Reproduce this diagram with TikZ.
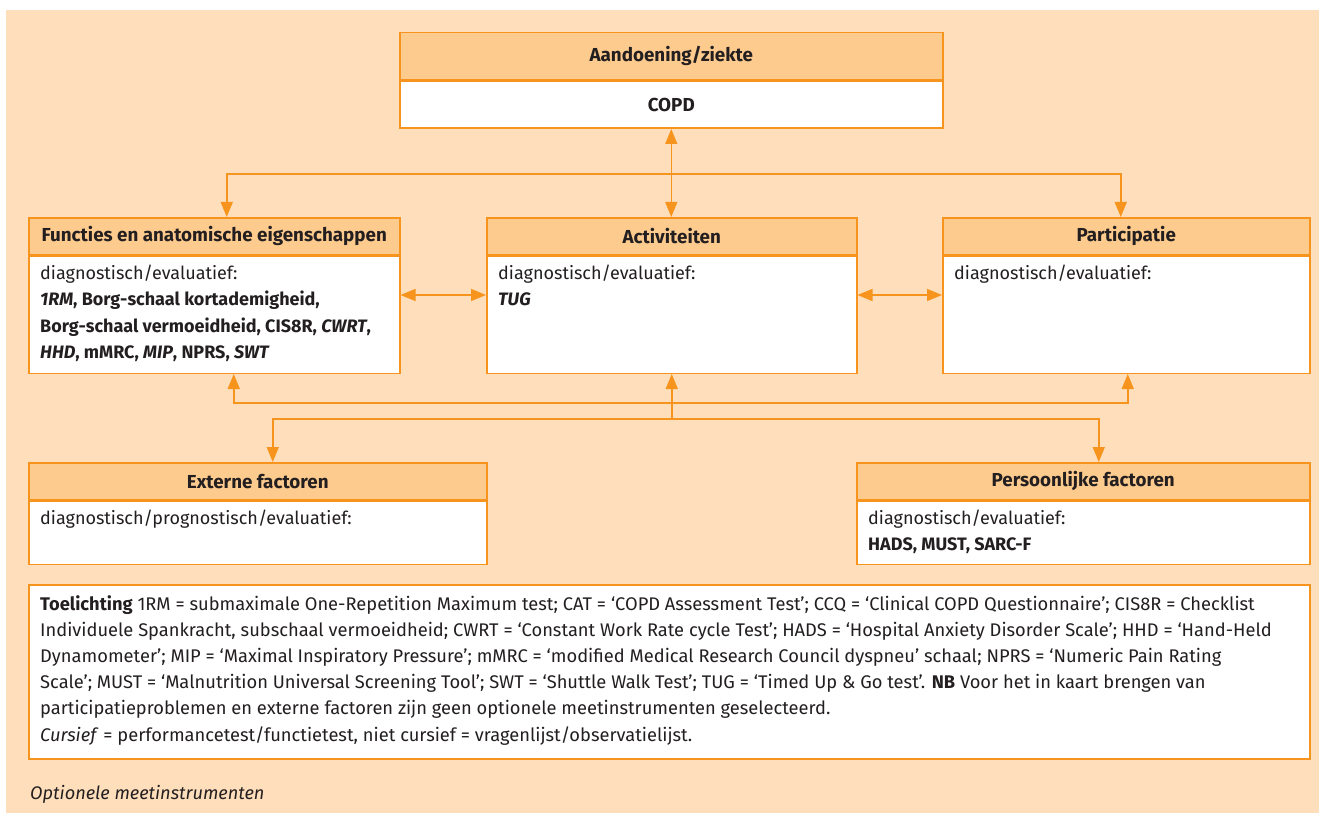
\documentclass[tikz,border=0pt]{standalone}
\usepackage{fontspec}
\setmainfont{Fira Sans}
\usetikzlibrary{arrows.meta,positioning,calc}

\definecolor{achtergrond}{RGB}{255,223,187}
\definecolor{kopkleur}{RGB}{254,203,142}
\definecolor{oranje}{RGB}{247,148,29}
\definecolor{inkt}{RGB}{35,31,32}

\tikzset{
  kop/.style={draw=oranje, fill=kopkleur, line width=1.5pt, anchor=north west, inner sep=0pt, text=inkt, font=\fontsize{18.8}{20}\selectfont\bfseries},
  vak/.style={draw=oranje, fill=white, line width=1.5pt, anchor=north west, inner sep=0pt, text=inkt},
  inhoud/.style={anchor=north west, inner sep=0pt, align=left, text=inkt, font=\fontsize{18}{26.5}\selectfont},
  pijl/.style={draw=oranje, line width=1.5pt, -{Triangle[length=15pt,width=12pt]}},
  dubbel/.style={pijl, {Triangle[length=15pt,width=12pt]}-{Triangle[length=15pt,width=12pt]}},
  lijn/.style={draw=oranje, line width=1.5pt}
}

\begin{document}
\begin{tikzpicture}[x=1pt,y=-1pt]
\useasboundingbox (0,0) rectangle (1319,813);
\fill[achtergrond] (6,10) rectangle (1319,813);

% aandoening
\node[kop, minimum width=543pt, minimum height=47pt] (ziekte) at (399,32) {Aandoening/ziekte};
\node[vak, minimum width=543pt, minimum height=47pt, font=\fontsize{18.8}{20}\selectfont\bfseries] (copd) at (ziekte.south west) {COPD};

% functies, activiteiten, participatie
\node[kop, minimum width=371pt, minimum height=37pt] (fun) at (28,217) {Functies en anatomische eigenschappen};
\node[vak, minimum width=371pt, minimum height=117pt] (funvak) at (fun.south west) {};
\node[inhoud] (funtekst) at ([shift={(12,9)}]funvak.north west) {diagnostisch/evaluatief:\\
  \textbf{\textit{1RM}, Borg-schaal kortademigheid,}\\
  \textbf{Borg-schaal vermoeidheid, CIS8R, \textit{CWRT},}\\
  \textbf{\textit{HHD}, mMRC, \textit{MIP}, NPRS, \textit{SWT}}};

\node[kop, minimum width=370pt, minimum height=37pt] (act) at (486,217) {Activiteiten};
\node[vak, minimum width=370pt, minimum height=117pt] (actvak) at (act.south west) {};
\node[inhoud] (acttekst) at ([shift={(12,9)}]actvak.north west) {diagnostisch/evaluatief:\\
  \textbf{\textit{TUG}}};

\node[kop, minimum width=367pt, minimum height=37pt] (par) at (942,217) {Participatie};
\node[vak, minimum width=367pt, minimum height=117pt] (parvak) at (par.south west) {};
\node[inhoud] (partekst) at ([shift={(12,9)}]parvak.north west) {diagnostisch/evaluatief:};

% externe en persoonlijke factoren
\node[kop, minimum width=458pt, minimum height=37pt] (ext) at (28,462) {Externe factoren};
\node[vak, minimum width=458pt, minimum height=63pt] (extvak) at (ext.south west) {};
\node[inhoud] (exttekst) at ([shift={(12,9)}]extvak.north west) {diagnostisch/prognostisch/evaluatief:};

\node[kop, minimum width=453pt, minimum height=37pt] (pers) at (856,462) {Persoonlijke factoren};
\node[vak, minimum width=453pt, minimum height=63pt] (persvak) at (pers.south west) {};
\node[inhoud] (perstekst) at ([shift={(12,9)}]persvak.north west) {diagnostisch/evaluatief:\\
  \textbf{HADS, MUST, SARC-F}};

% toelichting
\node[vak, minimum width=1281pt, minimum height=174pt] (uitleg) at (28,584) {};
\node[inhoud, font=\fontsize{18.3}{26.2}\selectfont] (uitlegtekst) at ([shift={(12,11)}]uitleg.north west) {\textbf{Toelichting} 1RM = submaximale One-Repetition Maximum test; CAT = ‘COPD Assessment Test’; CCQ = ‘Clinical COPD Questionnaire’; CIS8R = Checklist\\
  Individuele Spankracht, subschaal vermoeidheid; CWRT = ‘Constant Work Rate cycle Test’; HADS = ‘Hospital Anxiety Disorder Scale’; HHD = ‘Hand-Held\\
  Dynamometer’; MIP = ‘Maximal Inspiratory Pressure’; mMRC = ‘modified Medical Research Council dyspneu’ schaal; NPRS = ‘Numeric Pain Rating\\
  Scale’; MUST = ‘Malnutrition Universal Screening Tool’; SWT = ‘Shuttle Walk Test’; TUG = ‘Timed Up \& Go test’. \textbf{NB} Voor het in kaart brengen van\\
  participatieproblemen en externe factoren zijn geen optionele meetinstrumenten geselecteerd.\\
  \textit{Cursief} = performancetest/functietest, niet cursief = vragenlijst/observatielijst.};
\node[inhoud, anchor=base west, font=\fontsize{18.2}{20}\selectfont\itshape] (bijschrift) at (30,799) {Optionele meetinstrumenten};

% verbindingen boven
\draw[dubbel] (copd.south) -- (copd.south |- act.north);
\coordinate (splitsboven) at (copd.south |- 0,174);
\draw[pijl] (splitsboven) -| ([xshift=12.5pt]fun.north);
\draw[pijl] (splitsboven) -| ([xshift=-5.5pt]par.north);

% verbindingen midden
\draw[dubbel] (funvak.east |- 0,295) -- (actvak.west |- 0,295);
\draw[dubbel] (actvak.east |- 0,295) -- (parvak.west |- 0,295);

% verbindingen onder
\coordinate (splitsonder) at (actvak.south |- 0,403);
\coordinate (splitsfactor) at (actvak.south |- 0,419);
\draw[pijl] (splitsonder) -- (actvak.south);
\draw[pijl] (splitsonder) -| ([xshift=19.5pt]funvak.south);
\draw[pijl] (splitsonder) -| ([xshift=1.5pt]parvak.south);
\draw[lijn] (splitsonder) -- (splitsfactor);
\draw[pijl] (splitsfactor) -| ([xshift=15pt]ext.north);
\draw[pijl] (splitsfactor) -| ([xshift=15.5pt]pers.north);
\end{tikzpicture}
\end{document}
